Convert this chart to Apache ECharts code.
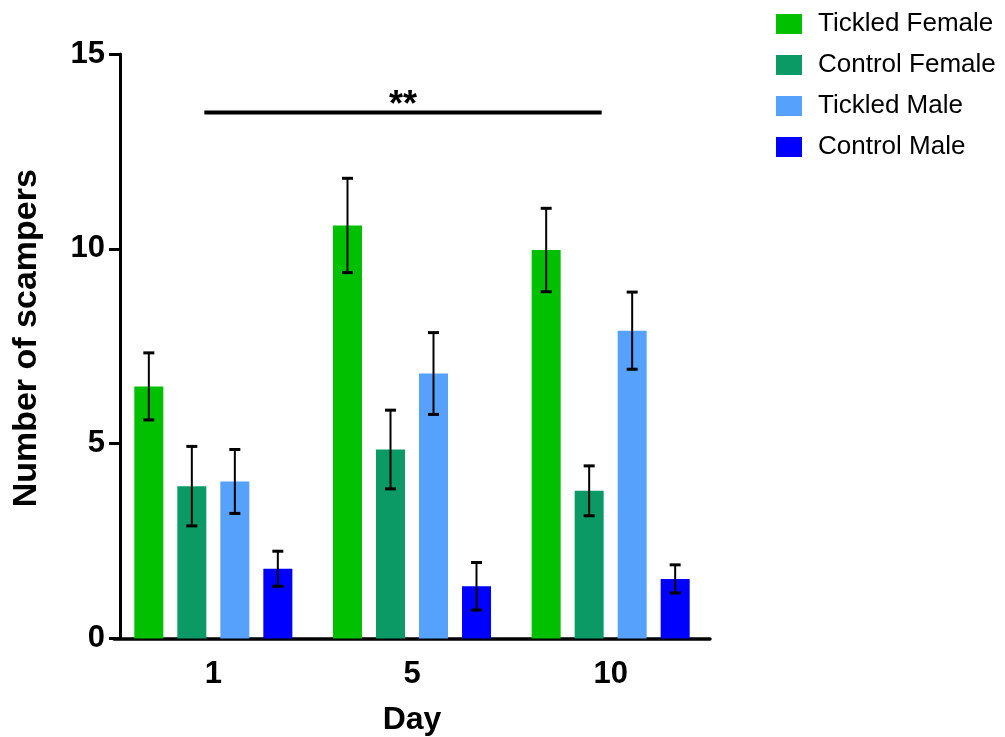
<!DOCTYPE html>
<html>
<head>
<meta charset="utf-8">
<title>Number of scampers by day</title>
<script src="https://cdn.jsdelivr.net/npm/echarts@6/dist/echarts.min.js"></script>
<style>
  html, body { margin: 0; padding: 0; background: #ffffff; }
  #chart { width: 1005px; height: 737px; }
</style>
</head>
<body>
<div id="chart"></div>
<script>
// Days on the x axis
const days = ['1', '5', '10'];

// Group means and SEM per day
const tickledFemale = [6.47, 10.60, 9.97];
const tickledFemaleErr = [0.86, 1.21, 1.07];
const controlFemale = [3.91, 4.85, 3.79];
const controlFemaleErr = [1.02, 1.01, 0.64];
const tickledMale = [4.03, 6.80, 7.90];
const tickledMaleErr = [0.82, 1.05, 0.99];
const controlMale = [1.79, 1.34, 1.53];
const controlMaleErr = [0.45, 0.61, 0.36];

const groupNames = ['Tickled Female', 'Control Female', 'Tickled Male', 'Control Male'];
const groupColors = ['#00c000', '#0b9a66', '#56a1fb', '#0000fe'];

// Significance bracket between day 1 and day 10
const sigFrom = 0;
const sigTo = 2;
const sigLevel = 13.5;
const sigText = '**';

const FONT = "'Liberation Sans', Arial, Helvetica, sans-serif";
const BAR_W = 29;
const BAR_GAP = 14;

const means = [tickledFemale, controlFemale, tickledMale, controlMale];
const errs = [tickledFemaleErr, controlFemaleErr, tickledMaleErr, controlMaleErr];

const barSeries = groupNames.map((name, i) => ({
  name: name,
  type: 'bar',
  barWidth: BAR_W,
  barGap: (BAR_GAP / BAR_W * 100).toFixed(1) + '%',
  itemStyle: { color: groupColors[i] },
  data: means[i],
  z: 2
}));

// Error bars drawn over each bar
const errorSeries = groupNames.map((name, i) => ({
  type: 'custom',
  name: name + ' SEM',
  z: 5,
  silent: true,
  data: days.map((d, k) => [k, means[i][k], errs[i][k]]),
  renderItem: function (params, api) {
    const k = api.value(0), m = api.value(1), e = api.value(2);
    const hi = api.coord([k, m + e]);
    const lo = api.coord([k, m - e]);
    const x = hi[0] + (i - 1.5) * (BAR_W + BAR_GAP);
    const cap = 5.5;
    const st = { stroke: '#000', lineWidth: 2 };
    const capSt = { stroke: '#000', lineWidth: 3 };
    return {
      type: 'group',
      children: [
        { type: 'line', shape: { x1: x, y1: hi[1], x2: x, y2: lo[1] }, style: st },
        { type: 'line', shape: { x1: x - cap, y1: hi[1], x2: x + cap, y2: hi[1] }, style: capSt },
        { type: 'line', shape: { x1: x - cap, y1: lo[1], x2: x + cap, y2: lo[1] }, style: capSt }
      ]
    };
  }
}));

// Horizontal significance bar with its label
const sigSeries = {
  type: 'custom',
  name: 'significance',
  z: 6,
  silent: true,
  data: [[sigFrom, sigTo, sigLevel]],
  renderItem: function (params, api) {
    const a = api.coord([api.value(0), api.value(2)]);
    const b = api.coord([api.value(1), api.value(2)]);
    const x1 = a[0] - 9, x2 = b[0] - 9;
    return {
      type: 'group',
      children: [
        { type: 'line', shape: { x1: x1, y1: a[1], x2: x2, y2: a[1] },
          style: { stroke: '#000', lineWidth: 4 } },
        { type: 'text', x: (x1 + x2) / 2, y: a[1] + 12,
          style: { text: sigText, font: 'bold 36px ' + FONT, fill: '#000',
                   align: 'center', verticalAlign: 'bottom' } }
      ]
    };
  }
};

const chart = echarts.init(document.getElementById('chart'), null, { renderer: 'canvas' });

chart.setOption({
  backgroundColor: '#ffffff',
  animation: false,
  legend: {
    data: groupNames,
    orient: 'vertical',
    left: 771,
    top: 6,
    icon: 'rect',
    itemWidth: 26,
    itemHeight: 20,
    itemGap: 15,
    textStyle: { fontFamily: FONT, fontSize: 26, color: '#000', padding: [0, 0, 0, 11] }
  },
  grid: { left: 114, width: 596, top: 54, bottom: 98.5, outerBoundsMode: 'none', containLabel: false },
  xAxis: {
    type: 'category',
    data: days,
    name: 'Day',
    nameLocation: 'middle',
    nameGap: 66,
    nameTextStyle: { fontFamily: FONT, fontSize: 32, fontWeight: 'bold', color: '#000' },
    axisLine: { lineStyle: { color: '#000', width: 3.5 } },
    axisTick: { alignWithLabel: true, length: 10, lineStyle: { color: '#000', width: 3 } },
    axisLabel: { fontFamily: FONT, fontSize: 31, fontWeight: 'bold', color: '#000', margin: 20 },
    splitLine: { show: false }
  },
  yAxis: {
    type: 'value',
    min: 0,
    max: 15,
    interval: 5,
    offset: -6,
    name: 'Number of scampers',
    nameLocation: 'middle',
    nameGap: 76,
    nameRotate: 90,
    nameTextStyle: { fontFamily: FONT, fontSize: 34, fontWeight: 'bold', color: '#000', padding: [0, 0, 0, 16] },
    axisLine: { show: true, lineStyle: { color: '#000', width: 3 } },
    axisTick: { show: true, length: 11, lineStyle: { color: '#000', width: 3 } },
    axisLabel: { fontFamily: FONT, fontSize: 31, fontWeight: 'bold', color: '#000', margin: 15 },
    splitLine: { show: false }
  },
  series: barSeries.concat(errorSeries, [sigSeries])
});
</script>
</body>
</html>
